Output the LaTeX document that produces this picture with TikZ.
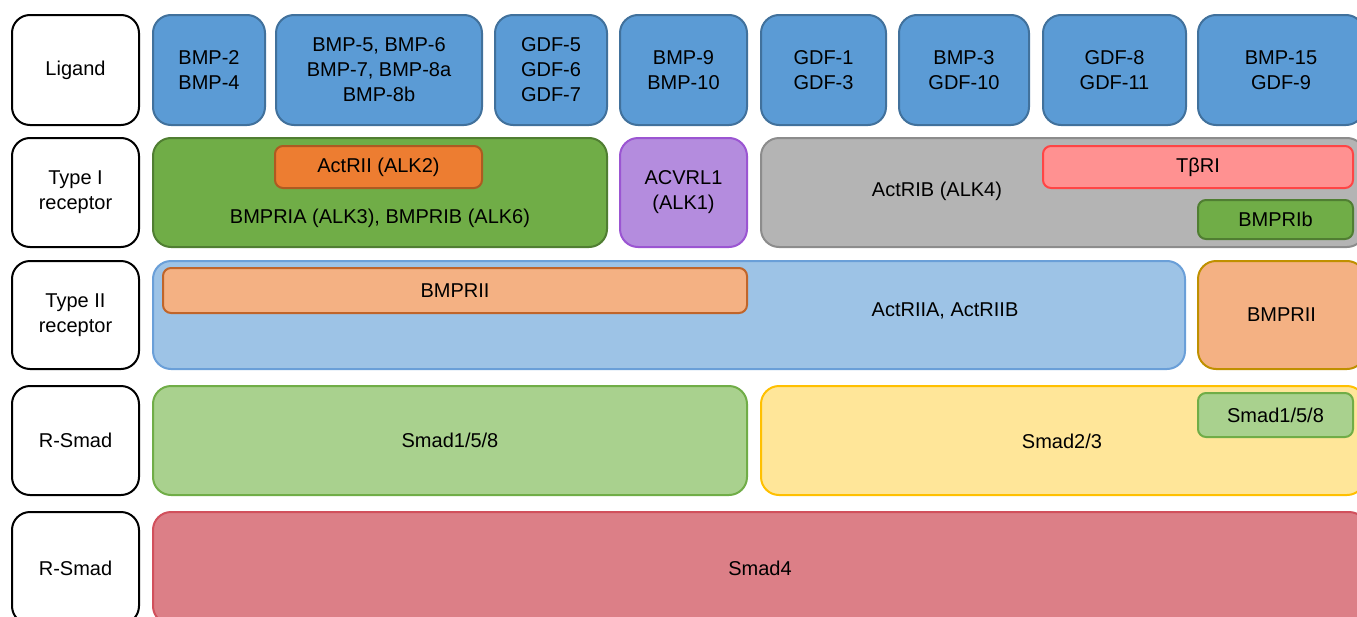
\documentclass[tikz,border=0pt]{standalone}
\usepackage{fontspec}
\setmainfont{Liberation Sans}
\usepackage{tikz}

\definecolor{ligblue}{HTML}{5B9BD5}
\definecolor{ligline}{HTML}{41719C}
\definecolor{dkgreen}{HTML}{70AD47}
\definecolor{dkgreenline}{HTML}{507E32}
\definecolor{orng}{HTML}{ED7D31}
\definecolor{orngline}{HTML}{AE5A21}
\definecolor{purp}{HTML}{B48CDE}
\definecolor{purpline}{HTML}{9B55D2}
\definecolor{gry}{HTML}{B4B4B4}
\definecolor{gryline}{HTML}{8C8C8C}
\definecolor{pnk}{HTML}{FF9191}
\definecolor{pnkline}{HTML}{FF4545}
\definecolor{ltblue}{HTML}{9DC3E6}
\definecolor{ltblueline}{HTML}{6A9FD8}
\definecolor{ltorng}{HTML}{F4B183}
\definecolor{ltorngline}{HTML}{C0652A}
\definecolor{goldline}{HTML}{BF9000}
\definecolor{ltgreen}{HTML}{A9D18E}
\definecolor{yel}{HTML}{FFE699}
\definecolor{yelline}{HTML}{FFC000}
\definecolor{smadred}{HTML}{DC7F87}
\definecolor{smadline}{HTML}{D1505C}

\tikzset{
  txt/.style={font=\fontsize{20}{25}\selectfont, align=center},
  box/.style={txt, draw, line width=2pt, rounded corners=18pt},
  small/.style={txt, draw, line width=2pt, rounded corners=8pt},
  rowlabel/.style={box, draw=black, fill=white, minimum width=127pt},
  lig/.style={box, fill=ligblue, draw=ligline, minimum height=110pt}
}

\begin{document}
\begin{tikzpicture}[x=1pt,y=-1pt]
\useasboundingbox (0,0) rectangle (1357,616);
\clip (0,0) rectangle (1357,616);

\node[rowlabel, minimum height=110pt] (ligand) at (75.5,70) {Ligand};
\node[rowlabel, minimum height=109pt] (typeone) at (75.5,192.5) {Type I\\receptor};
\node[rowlabel, minimum height=108pt] (typetwo) at (75.5,315) {Type II\\receptor};
\node[rowlabel, minimum height=109pt] (rsmad) at (75.5,440.5) {R-Smad};
\node[rowlabel, minimum height=112pt] (cosmad) at (75.5,568) {R-Smad};

\node[lig, minimum width=112pt] (bmp24) at (209,70) {BMP-2\\BMP-4};
\node[lig, minimum width=206pt] (bmp58) at (379,70) {BMP-5, BMP-6\\BMP-7, BMP-8a\\BMP-8b};
\node[lig, minimum width=112pt] (gdf57) at (551,70) {GDF-5\\GDF-6\\GDF-7};
\node[lig, minimum width=127pt] (bmp910) at (683.5,70) {BMP-9\\BMP-10};
\node[lig, minimum width=125pt] (gdf13) at (823.5,70) {GDF-1\\GDF-3};
\node[lig, minimum width=130pt] (bmp3) at (964,70) {BMP-3\\GDF-10};
\node[lig, minimum width=143pt] (gdf811) at (1114.5,70) {GDF-8\\GDF-11};
\node[lig, minimum width=166pt] (bmp15) at (1281,70) {BMP-15\\GDF-9};

\node[box, fill=dkgreen, draw=dkgreenline, minimum width=454pt, minimum height=109pt] (alkgreen) at (380,192.5) {};
\node[txt] (alkgreentxt) at (380,218) {BMPRIA (ALK3), BMPRIB (ALK6)};
\node[small, fill=orng, draw=orngline, minimum width=207pt, minimum height=42pt] (alktwo) at (378.5,167) {ActRII (ALK2)};
\node[box, fill=purp, draw=purpline, minimum width=127pt, minimum height=109pt] (alkone) at (683.5,192.5) {ACVRL1\\(ALK1)};
\node[box, fill=gry, draw=gryline, minimum width=604pt, minimum height=109pt] (alkfour) at (1063,192.5) {};
\node[txt] (alkfourtxt) at (937,191) {ActRIB (ALK4)};
\node[small, fill=pnk, draw=pnkline, minimum width=310pt, minimum height=42pt] (tbri) at (1198,167) {TβRI};
\node[small, fill=dkgreen, draw=dkgreenline, minimum width=155pt, minimum height=39pt] (bmprib) at (1275.5,219.5) {BMPRIb};

\node[box, fill=ltblue, draw=ltblueline, minimum width=1032pt, minimum height=108pt] (actrii) at (669,315) {};
\node[txt] (actriitxt) at (945,311) {ActRIIA, ActRIIB};
\node[small, fill=ltorng, draw=ltorngline, minimum width=584pt, minimum height=45pt] (bmpriia) at (455,290.5) {BMPRII};
\node[box, fill=ltorng, draw=goldline, minimum width=167pt, minimum height=108pt] (bmpriib) at (1281.5,315) {BMPRII};

\node[box, fill=ltgreen, draw=dkgreen, minimum width=594pt, minimum height=109pt] (smadone) at (450,440.5) {Smad1/5/8};
\node[box, fill=yel, draw=yelline, minimum width=604pt, minimum height=109pt] (smadtwo) at (1063,440.5) {};
\node[txt] (smadtwotxt) at (1062,441) {Smad2/3};
\node[small, fill=ltgreen, draw=dkgreen, minimum width=155pt, minimum height=44pt] (smadin) at (1275.5,415) {Smad1/5/8};

\node[box, fill=smadred, draw=smadline, minimum width=1214pt, minimum height=112pt] (smadfour) at (760,568) {Smad4};

\end{tikzpicture}
\end{document}
